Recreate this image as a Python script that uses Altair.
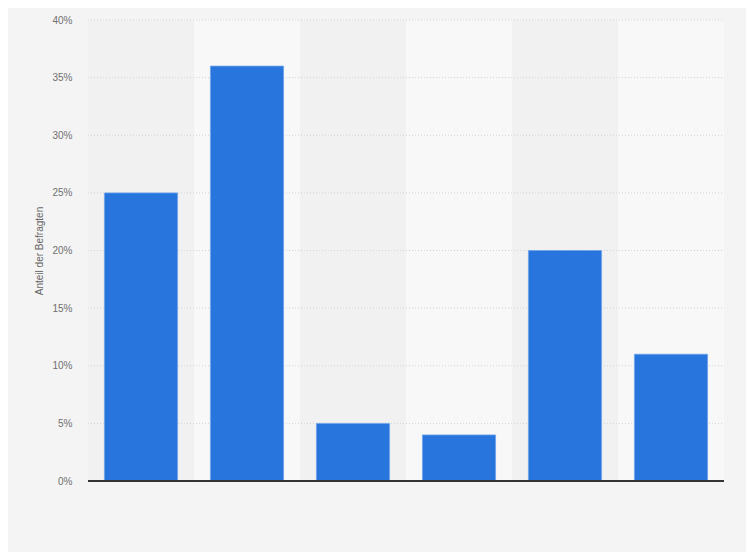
import altair as alt
import pandas as pd

categories = ["A", "B", "C", "D", "E", "F"]
values = [25, 36, 5, 4, 20, 11]
shades = ["dark", "light", "dark", "light", "dark", "light"]
ticks = [0, 5, 10, 15, 20, 25, 30, 35, 40]

df = pd.DataFrame({"cat": categories, "val": [v / 100 for v in values], "shade": shades})
grid_df = pd.DataFrame({"t": [t / 100 for t in ticks[1:]]})

W, H = 636, 461

x = alt.X("cat:N", sort=categories,
          scale=alt.Scale(paddingInner=0, paddingOuter=0),
          axis=alt.Axis(labels=False, ticks=False, title=None, domain=False, grid=False))

yscale = alt.Scale(domain=[0, 0.4], nice=False)
yaxis = alt.Axis(format=".0%", values=[t / 100 for t in ticks],
                 title="Anteil der Befragten", titleFont="Liberation Sans", titleFontSize=10,
                 titleFontWeight="normal", titleColor="#666666", titlePadding=7,
                 labelFont="Liberation Sans", labelFontSize=10, labelColor="#707070",
                 labelPadding=16, ticks=False, domain=False, grid=False)

bands = alt.Chart(df).mark_bar(strokeWidth=0).encode(
    x=x,
    y=alt.value(0),
    y2=alt.value(H),
    color=alt.Color("shade:N", scale=alt.Scale(domain=["dark", "light"], range=["#f1f1f1", "#f8f8f8"]), legend=None),
)

grid = alt.Chart(grid_df).mark_rule(color="#d3d3d3", strokeDash=[1, 2], strokeWidth=1).encode(
    y=alt.Y("t:Q", scale=yscale, axis=yaxis, title="Anteil der Befragten"),
    x=alt.value(0), x2=alt.value(W),
)

bars = alt.Chart(df).mark_bar(width=alt.RelativeBandSize(0.69), color="#2876dd",
                              stroke="#6fa3ea", strokeWidth=0.8).encode(
    x=x,
    y=alt.Y("val:Q", scale=yscale, axis=yaxis, title="Anteil der Befragten"),
)

base = alt.Chart(df).mark_rule(color="#333333", strokeWidth=1.2).encode(
    x=alt.value(0), x2=alt.value(W), y=alt.value(H))

chart = alt.layer(bands, grid, bars, base).properties(
    width=W, height=H,
    autosize=alt.AutoSizeParams(type="none"),
    padding={"left": 80, "top": 12, "right": 22, "bottom": 71},
).configure(background="#f4f4f4").configure_view(stroke=None)

chart.save("out.html", embed_options={"renderer": "svg", "actions": False})
